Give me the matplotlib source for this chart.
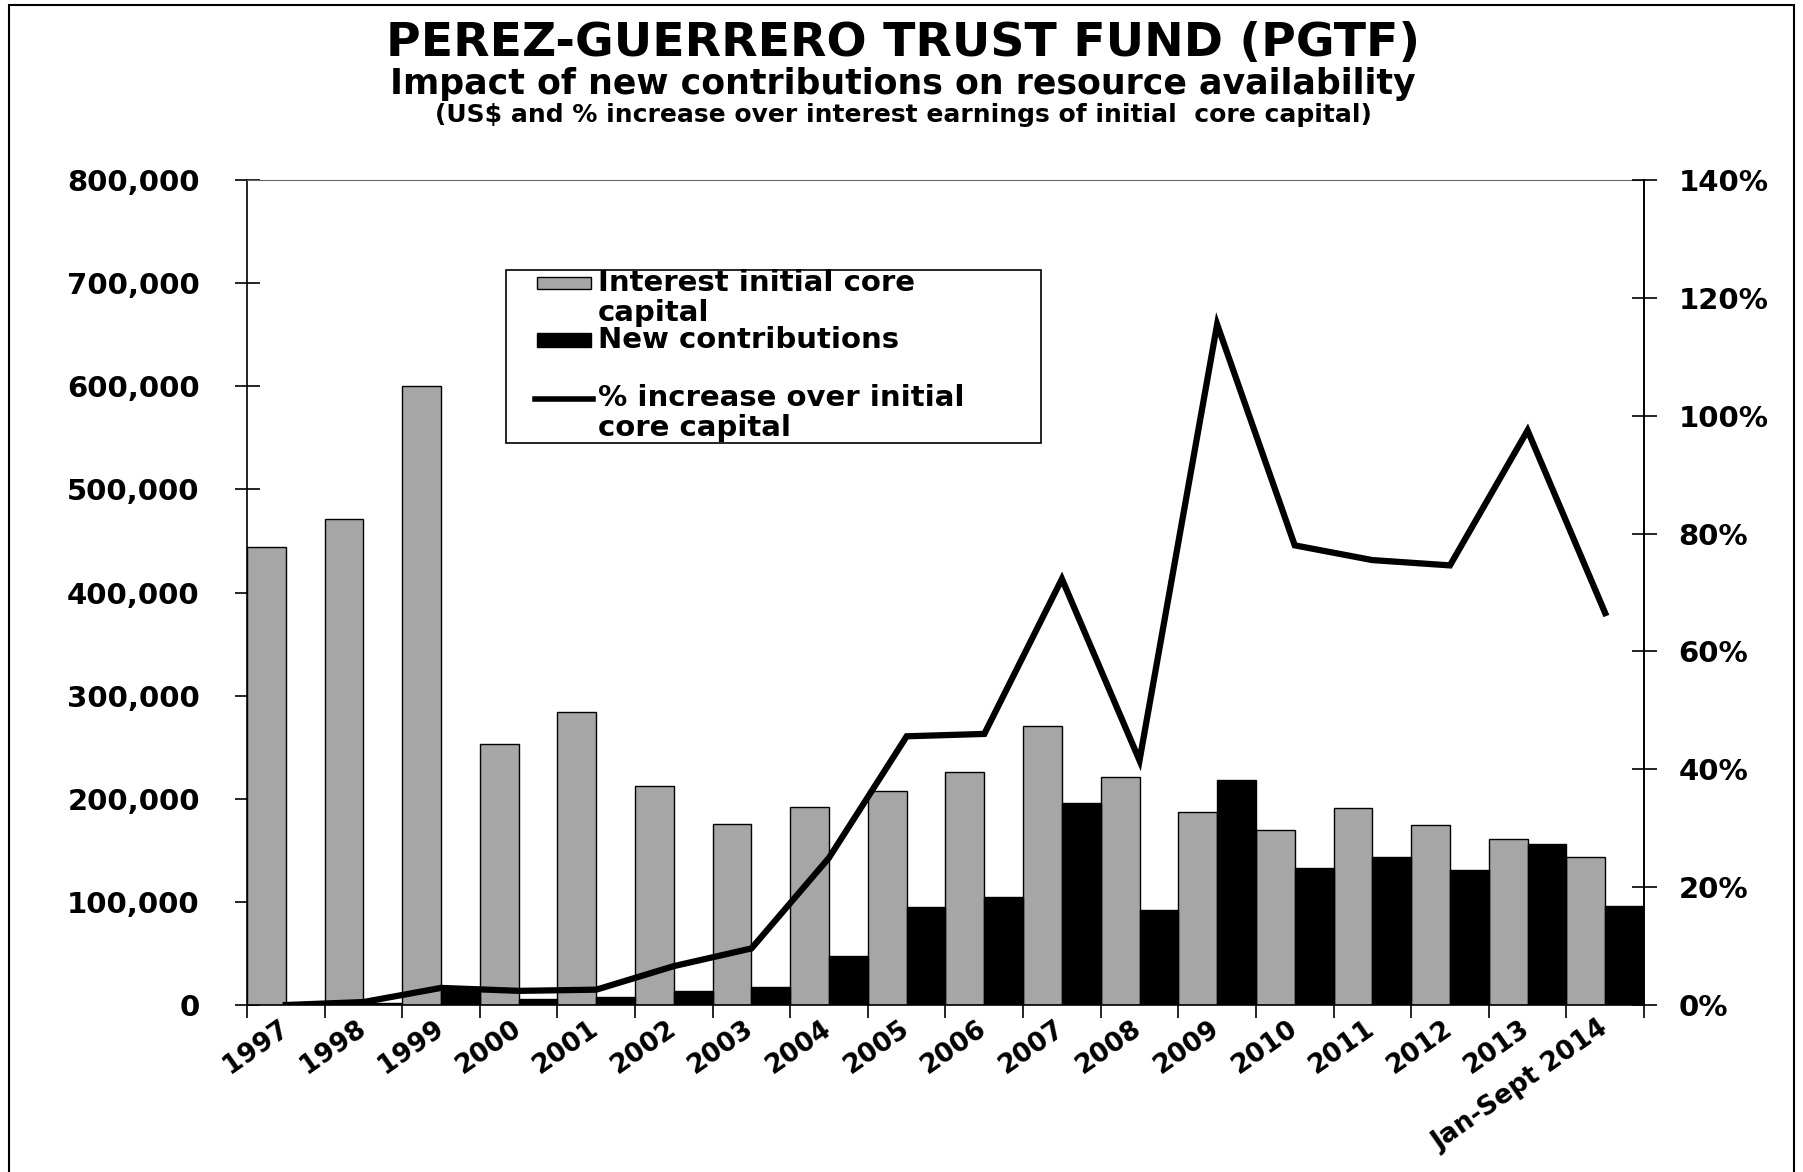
import numpy as np
import matplotlib
matplotlib.use('Agg')
import matplotlib.pyplot as plt
from matplotlib import ticker as mticker
from matplotlib import transforms as mtransforms
from matplotlib.patches import Rectangle
from matplotlib.lines import Line2D

plt.rcParams['font.family'] = ['DejaVu Sans']
plt.rcParams['font.weight'] = 'bold'

# data
years = ['1997', '1998', '1999', '2000', '2001', '2002', '2003', '2004', '2005',
         '2006', '2007', '2008', '2009', '2010', '2011', '2012', '2013', 'Jan-Sept 2014']
interest = [444000, 471000, 600000, 253000, 284000, 212000, 176000, 192000, 208000,
            226000, 271000, 221000, 187000, 170000, 191000, 175000, 161000, 144000]
new_contrib = [0, 2000, 17000, 6000, 7500, 14000, 17000, 48000, 95000,
               105000, 196000, 92000, 218000, 133000, 144000, 131000, 156000, 96000]
pct_increase = [0.0, 0.5, 2.9, 2.4, 2.6, 6.6, 9.6, 25.0, 45.6,
                46.0, 72.3, 41.5, 115.5, 78.0, 75.5, 74.6, 97.5, 66.5]

W, H = 1803, 1172
fig = plt.figure(figsize=(W / 100, H / 100), dpi=100, facecolor='white')

# outer frame round the whole chart
fig.patches.append(Rectangle((9 / W, -0.01), (1794 - 9) / W, 1.01 - 5 / H,
                             transform=fig.transFigure, fill=False,
                             edgecolor='black', linewidth=1.5))

ax = fig.add_axes([247 / W, 1 - 1005 / H, (1644 - 247) / W, (1005 - 180) / H])
x = np.arange(len(years))

ax.bar(x - 0.25, interest, width=0.5, color='#a6a6a6', edgecolor='black', linewidth=1.0, zorder=2)
ax.bar(x + 0.25, new_contrib, width=0.5, color='black', edgecolor='black', linewidth=1.0, zorder=2)

ax.set_xlim(-0.5, len(years) - 0.5)
ax.set_ylim(0, 800000)
ax.yaxis.set_major_locator(mticker.MultipleLocator(100000))
ax.yaxis.set_major_formatter(mticker.FuncFormatter(lambda v, p: '{:,.0f}'.format(v)))
ax.tick_params(axis='y', direction='inout', length=18, width=1.2, pad=25, labelsize=21)

ax.set_xticks(x)
ax.set_xticklabels(years, rotation=35, ha='right', va='center', rotation_mode='anchor', fontsize=19)
# shift the slanted labels a little left, like the original
offset = mtransforms.ScaledTranslation(-22 / 100, 0, fig.dpi_scale_trans)
for lab in ax.get_xticklabels():
    lab.set_transform(lab.get_transform() + offset)
ax.set_xticks(np.arange(len(years) + 1) - 0.5, minor=True)
ax.tick_params(axis='x', which='major', length=0, pad=15)
ax.tick_params(axis='x', which='minor', direction='out', length=9, width=1.2)

for s in ax.spines.values():
    s.set_linewidth(1.2)
ax.spines['top'].set_color('#666666')
ax.spines['top'].set_linewidth(0.8)

# right axis for the % line
ax2 = ax.twinx()
ax2.plot(x, pct_increase, color='black', linewidth=4.5, solid_joinstyle='miter', zorder=5)
ax2.set_ylim(0, 140)
ax2.yaxis.set_major_locator(mticker.MultipleLocator(20))
ax2.yaxis.set_major_formatter(mticker.FuncFormatter(lambda v, p: '{:.0f}%'.format(v)))
ax2.tick_params(axis='y', direction='inout', length=18, width=1.2, pad=16, labelsize=21)
for s in ax2.spines.values():
    s.set_visible(False)
ax2.spines['right'].set_visible(True)
ax2.spines['right'].set_linewidth(1.2)

# titles
fig.text(0.501, 0.963, 'PEREZ-GUERRERO TRUST FUND (PGTF)', ha='center', va='center',
         fontsize=34, fontweight='bold')
fig.text(0.501, 0.928, 'Impact of new contributions on resource availability', ha='center',
         va='center', fontsize=25, fontweight='bold')
fig.text(0.501, 0.902, '(US$ and % increase over interest earnings of initial  core capital)',
         ha='center', va='center', fontsize=18, fontweight='bold')

# legend box drawn by hand so the keys sit on the first text line
lx0, ly0, lx1, ly1 = 506, 270, 1041, 443
fig.patches.append(Rectangle((lx0 / W, 1 - ly1 / H), (lx1 - lx0) / W, (ly1 - ly0) / H,
                             transform=fig.transFigure, facecolor='white',
                             edgecolor='black', linewidth=1.2, zorder=10))
fig.patches.append(Rectangle((537 / W, 1 - 289 / H), 54 / W, 12 / H, transform=fig.transFigure,
                             facecolor='#a6a6a6', edgecolor='black', linewidth=1.0, zorder=11))
fig.patches.append(Rectangle((537 / W, 1 - 347 / H), 54 / W, 14 / H, transform=fig.transFigure,
                             facecolor='black', edgecolor='black', linewidth=1.0, zorder=11))
fig.lines.append(Line2D([535 / W, 593 / W], [1 - 399 / H, 1 - 399 / H], transform=fig.transFigure,
                        color='black', linewidth=4, zorder=11))
leg_texts = [('Interest initial core', 283), ('capital', 313), ('New contributions', 340),
             ('% increase over initial', 398), ('core capital', 428)]
for t, yy in leg_texts:
    fig.text(598 / W, 1 - yy / H, t, ha='left', va='center', fontsize=21,
             fontweight='bold', zorder=12)

fig.savefig('out.png', dpi=100, facecolor='white')
